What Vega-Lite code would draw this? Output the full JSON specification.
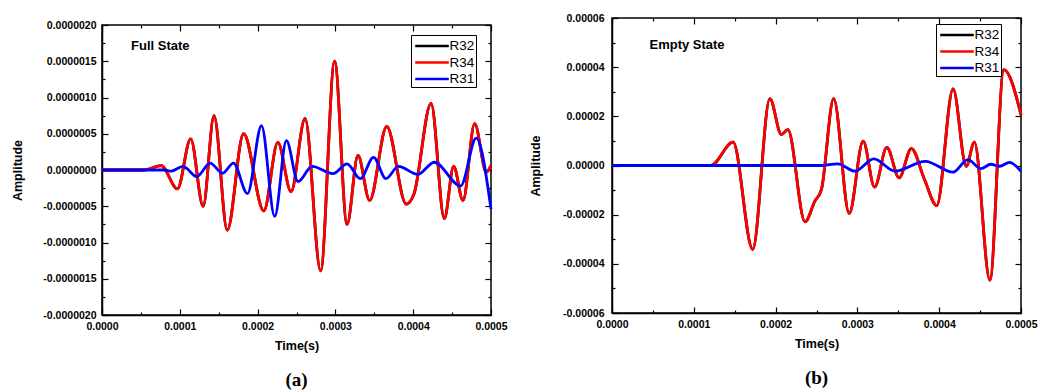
{
  "$schema": "https://vega.github.io/schema/vega-lite/v6.json",
  "background": "white",
  "padding": {"left": 11, "top": 12, "right": 2, "bottom": 0},
  "spacing": 20,
  "config": {
    "view": {"stroke": "black", "strokeWidth": 1.5},
    "axis": {
      "grid": false,
      "labelFont": "Liberation Sans", "labelFontWeight": "bold", "labelFontSize": 10.5, "labelColor": "black",
      "titleFont": "Liberation Sans", "titleFontWeight": "bold", "titleFontSize": 12.5, "titleColor": "black",
      "domainColor": "black", "domainWidth": 1.5, "tickColor": "black", "tickWidth": 1.2,
      "labelFlush": false, "labelOverlap": false
    },
    "legend": {
      "orient": "none", "title": null, "strokeColor": "black", "fillColor": "white", "padding": 1.5,
      "symbolType": "M-2.1,0H2.1", "symbolSize": 256, "symbolStrokeWidth": 2.5, "symbolOffset": 10,
      "labelFont": "Liberation Sans", "labelFontSize": 13.5, "labelColor": "black", "rowPadding": 0.5, "labelOffset": 8
    }
  },
  "resolve": {"scale": {"color": "independent"}, "legend": {"color": "independent"}},
  "datasets": {
    "a": [
      {"s":"R32","t":0,"v":0},{"s":"R32","t":5.4e-5,"v":0},{"s":"R32","t":7.6e-5,"v":6e-8},{"s":"R32","t":9.7e-5,"v":-2.6e-7},{"s":"R32","t":1.14e-4,"v":4.3e-7},{"s":"R32","t":1.30e-4,"v":-5.0e-7},{"s":"R32","t":1.44e-4,"v":7.5e-7},{"s":"R32","t":1.61e-4,"v":-8.3e-7},{"s":"R32","t":1.82e-4,"v":5.0e-7},{"s":"R32","t":2.08e-4,"v":-5.65e-7},{"s":"R32","t":2.26e-4,"v":3.8e-7},{"s":"R32","t":2.43e-4,"v":-3.0e-7},{"s":"R32","t":2.61e-4,"v":7.1e-7},{"s":"R32","t":2.81e-4,"v":-1.39e-6},{"s":"R32","t":2.99e-4,"v":1.5e-6},{"s":"R32","t":3.15e-4,"v":-7.5e-7},{"s":"R32","t":3.29e-4,"v":2.0e-7},{"s":"R32","t":3.44e-4,"v":-4.2e-7},{"s":"R32","t":3.66e-4,"v":6.0e-7},{"s":"R32","t":3.91e-4,"v":-4.7e-7},{"s":"R32","t":4.01e-4,"v":-3.3e-7},{"s":"R32","t":4.23e-4,"v":9.2e-7},{"s":"R32","t":4.40e-4,"v":-6.7e-7},{"s":"R32","t":4.52e-4,"v":5e-8},{"s":"R32","t":4.64e-4,"v":-4.2e-7},{"s":"R32","t":4.79e-4,"v":6.4e-7},{"s":"R32","t":4.94e-4,"v":-3e-8},{"s":"R32","t":5.0e-4,"v":6e-8},
      {"s":"R34","t":0,"v":0},{"s":"R34","t":5.4e-5,"v":0},{"s":"R34","t":7.6e-5,"v":6e-8},{"s":"R34","t":9.7e-5,"v":-2.6e-7},{"s":"R34","t":1.14e-4,"v":4.3e-7},{"s":"R34","t":1.30e-4,"v":-5.0e-7},{"s":"R34","t":1.44e-4,"v":7.5e-7},{"s":"R34","t":1.61e-4,"v":-8.3e-7},{"s":"R34","t":1.82e-4,"v":5.0e-7},{"s":"R34","t":2.08e-4,"v":-5.65e-7},{"s":"R34","t":2.26e-4,"v":3.8e-7},{"s":"R34","t":2.43e-4,"v":-3.0e-7},{"s":"R34","t":2.61e-4,"v":7.1e-7},{"s":"R34","t":2.81e-4,"v":-1.39e-6},{"s":"R34","t":2.99e-4,"v":1.5e-6},{"s":"R34","t":3.15e-4,"v":-7.5e-7},{"s":"R34","t":3.29e-4,"v":2.0e-7},{"s":"R34","t":3.44e-4,"v":-4.2e-7},{"s":"R34","t":3.66e-4,"v":6.0e-7},{"s":"R34","t":3.91e-4,"v":-4.7e-7},{"s":"R34","t":4.01e-4,"v":-3.3e-7},{"s":"R34","t":4.23e-4,"v":9.2e-7},{"s":"R34","t":4.40e-4,"v":-6.7e-7},{"s":"R34","t":4.52e-4,"v":5e-8},{"s":"R34","t":4.64e-4,"v":-4.2e-7},{"s":"R34","t":4.79e-4,"v":6.4e-7},{"s":"R34","t":4.94e-4,"v":-3e-8},{"s":"R34","t":5.0e-4,"v":6e-8},
      {"s":"R31","t":0,"v":0},{"s":"R31","t":8.0e-5,"v":0},{"s":"R31","t":8.9e-5,"v":-1.5e-8},{"s":"R31","t":1.04e-4,"v":5e-8},{"s":"R31","t":1.22e-4,"v":-9e-8},{"s":"R31","t":1.39e-4,"v":9.5e-8},{"s":"R31","t":1.55e-4,"v":-4.5e-8},{"s":"R31","t":1.69e-4,"v":9.5e-8},{"s":"R31","t":1.87e-4,"v":-3.25e-7},{"s":"R31","t":2.05e-4,"v":6.1e-7},{"s":"R31","t":2.22e-4,"v":-6.4e-7},{"s":"R31","t":2.37e-4,"v":4.05e-7},{"s":"R31","t":2.52e-4,"v":-1.6e-7},{"s":"R31","t":2.70e-4,"v":5e-8},{"s":"R31","t":2.97e-4,"v":-5e-8},{"s":"R31","t":3.15e-4,"v":8.5e-8},{"s":"R31","t":3.32e-4,"v":-1.2e-7},{"s":"R31","t":3.49e-4,"v":1.75e-7},{"s":"R31","t":3.65e-4,"v":-1.2e-7},{"s":"R31","t":3.81e-4,"v":5e-8},{"s":"R31","t":4.06e-4,"v":-6e-8},{"s":"R31","t":4.27e-4,"v":1.07e-7},{"s":"R31","t":4.61e-4,"v":-2.2e-7},{"s":"R31","t":4.81e-4,"v":4.4e-7},{"s":"R31","t":5.0e-4,"v":-5.4e-7}
    ],
    "b": [
      {"s":"R32","t":0,"v":0},{"s":"R32","t":1.21e-4,"v":0},{"s":"R32","t":1.48e-4,"v":9.5e-6},{"s":"R32","t":1.72e-4,"v":-3.41e-5},{"s":"R32","t":1.93e-4,"v":2.72e-5},{"s":"R32","t":2.07e-4,"v":1.26e-5},{"s":"R32","t":2.15e-4,"v":1.46e-5},{"s":"R32","t":2.36e-4,"v":-2.29e-5},{"s":"R32","t":2.48e-4,"v":-1.45e-5},{"s":"R32","t":2.56e-4,"v":-9.8e-6},{"s":"R32","t":2.71e-4,"v":2.72e-5},{"s":"R32","t":2.90e-4,"v":-1.95e-5},{"s":"R32","t":3.07e-4,"v":9.9e-6},{"s":"R32","t":3.21e-4,"v":-8.8e-6},{"s":"R32","t":3.36e-4,"v":7.4e-6},{"s":"R32","t":3.51e-4,"v":-5e-6},{"s":"R32","t":3.66e-4,"v":6.9e-6},{"s":"R32","t":3.82e-4,"v":-5.7e-6},{"s":"R32","t":3.97e-4,"v":-1.63e-5},{"s":"R32","t":4.17e-4,"v":3.12e-5},{"s":"R32","t":4.33e-4,"v":-3e-7},{"s":"R32","t":4.43e-4,"v":9.5e-6},{"s":"R32","t":4.62e-4,"v":-4.66e-5},{"s":"R32","t":4.79e-4,"v":3.9e-5},{"s":"R32","t":5.0e-4,"v":2.07e-5},
      {"s":"R34","t":0,"v":0},{"s":"R34","t":1.21e-4,"v":0},{"s":"R34","t":1.48e-4,"v":9.5e-6},{"s":"R34","t":1.72e-4,"v":-3.41e-5},{"s":"R34","t":1.93e-4,"v":2.72e-5},{"s":"R34","t":2.07e-4,"v":1.26e-5},{"s":"R34","t":2.15e-4,"v":1.46e-5},{"s":"R34","t":2.36e-4,"v":-2.29e-5},{"s":"R34","t":2.48e-4,"v":-1.45e-5},{"s":"R34","t":2.56e-4,"v":-9.8e-6},{"s":"R34","t":2.71e-4,"v":2.72e-5},{"s":"R34","t":2.90e-4,"v":-1.95e-5},{"s":"R34","t":3.07e-4,"v":9.9e-6},{"s":"R34","t":3.21e-4,"v":-8.8e-6},{"s":"R34","t":3.36e-4,"v":7.4e-6},{"s":"R34","t":3.51e-4,"v":-5e-6},{"s":"R34","t":3.66e-4,"v":6.9e-6},{"s":"R34","t":3.82e-4,"v":-5.7e-6},{"s":"R34","t":3.97e-4,"v":-1.63e-5},{"s":"R34","t":4.17e-4,"v":3.12e-5},{"s":"R34","t":4.33e-4,"v":-3e-7},{"s":"R34","t":4.43e-4,"v":9.5e-6},{"s":"R34","t":4.62e-4,"v":-4.66e-5},{"s":"R34","t":4.79e-4,"v":3.9e-5},{"s":"R34","t":5.0e-4,"v":2.07e-5},
      {"s":"R31","t":0,"v":0},{"s":"R31","t":2.55e-4,"v":0},{"s":"R31","t":2.76e-4,"v":7e-7},{"s":"R31","t":2.97e-4,"v":-2.3e-6},{"s":"R31","t":3.20e-4,"v":2.7e-6},{"s":"R31","t":3.46e-4,"v":-2.3e-6},{"s":"R31","t":3.83e-4,"v":1.7e-6},{"s":"R31","t":4.17e-4,"v":-2.7e-6},{"s":"R31","t":4.35e-4,"v":2.4e-6},{"s":"R31","t":4.51e-4,"v":-1.3e-6},{"s":"R31","t":4.63e-4,"v":5e-7},{"s":"R31","t":4.74e-4,"v":-3e-7},{"s":"R31","t":4.86e-4,"v":1.3e-6},{"s":"R31","t":5.0e-4,"v":-2.4e-6}
    ],
    "la": [{"t": 3.73e-5, "v": 1.71e-6, "label": "Full State"}],
    "lb": [{"t": 4.58e-5, "v": 4.92e-5, "label": "Empty State"}]
  },
  "hconcat": [
    {
      "spacing": 0,
      "resolve": {"scale": {"color": "independent"}, "legend": {"color": "independent"}},
      "vconcat": [
        {
          "width": 389, "height": 1,
          "data": {"values": [{"k": 1}]},
          "mark": {"type": "point", "opacity": 0, "size": 0},
          "view": {"stroke": null}
        },
        {
          "width": 389, "height": 290,
          "title": {"text": "(a)", "orient": "bottom", "anchor": "middle", "frame": "group", "font": "Liberation Serif", "fontSize": 19, "fontWeight": "bold", "color": "black", "offset": 19},
          "resolve": {"axis": {"x": "independent", "y": "independent"}},
          "layer": [
            {
              "data": {"name": "a"},
              "mark": {"type": "line", "strokeWidth": 2.8, "interpolate": "monotone"},
              "encoding": {
                "x": {"field": "t", "type": "quantitative", "scale": {"domain": [0, 0.0005], "nice": false, "zero": false},
                  "axis": {"orient": "bottom", "title": "Time(s)", "titlePadding": 8,
                    "values": [0,0.0001,0.0002,0.0003,0.0004,0.0005], "format": ".4f",
                    "tickSize": -6, "labelPadding": 12}},
                "y": {"field": "v", "type": "quantitative", "scale": {"domain": [-0.000002, 0.000002], "nice": false},
                  "axis": {"orient": "left", "title": "Amplitude", "titlePadding": 18,
                    "values": [-0.000002,-0.0000015,-0.000001,-0.0000005,0,0.0000005,0.000001,0.0000015,0.000002],
                    "labelExpr": "replace(format(datum.value, '.7f'), '\u2212', '-')",
                    "tickSize": -6, "labelPadding": 12}},
                "color": {"field": "s", "type": "nominal", "sort": null,
                  "scale": {"domain": ["R32", "R34", "R31"], "range": ["#000000", "#ff0000", "#0000ff"]},
                  "legend": {"legendX": 309, "legendY": 10}}
              }
            },
            {
              "data": {"name": "la"},
              "mark": {"type": "text", "align": "left", "baseline": "middle", "font": "Liberation Sans", "fontWeight": "bold", "fontSize": 13, "color": "black"},
              "encoding": {
                "x": {"field": "t", "type": "quantitative",
                  "axis": {"orient": "top", "title": null, "labels": false, "domain": false,
                    "values": [0,0.0001,0.0002,0.0003,0.0004,0.0005], "tickSize": -6}},
                "y": {"field": "v", "type": "quantitative",
                  "axis": {"orient": "right", "title": null, "labels": false, "domain": false,
                    "values": [-0.000002,-0.0000015,-0.000001,-0.0000005,0,0.0000005,0.000001,0.0000015,0.000002], "tickSize": -6}},
                "text": {"field": "label"}
              }
            },
            {
              "data": {"name": "la"},
              "mark": {"type": "point", "opacity": 0},
              "encoding": {
                "x": {"field": "t", "type": "quantitative",
                  "axis": {"orient": "bottom", "title": null, "labels": false, "domain": false,
                    "values": [0.00005,0.00015,0.00025,0.00035,0.00045], "tickSize": -3}},
                "y": {"field": "v", "type": "quantitative",
                  "axis": {"orient": "left", "title": null, "labels": false, "domain": false,
                    "values": [-0.00000175,-0.00000125,-0.00000075,-0.00000025,0.00000025,0.00000075,0.00000125,0.00000175], "tickSize": -3}}
              }
            },
            {
              "data": {"name": "la"},
              "mark": {"type": "point", "opacity": 0},
              "encoding": {
                "x": {"field": "t", "type": "quantitative",
                  "axis": {"orient": "top", "title": null, "labels": false, "domain": false,
                    "values": [0.00005,0.00015,0.00025,0.00035,0.00045], "tickSize": -3}},
                "y": {"field": "v", "type": "quantitative",
                  "axis": {"orient": "right", "title": null, "labels": false, "domain": false,
                    "values": [-0.00000175,-0.00000125,-0.00000075,-0.00000025,0.00000025,0.00000075,0.00000125,0.00000175], "tickSize": -3}}
              }
            }
          ]
        }
      ]
    },
    {
      "width": 409, "height": 295,
      "title": {"text": "(b)", "orient": "bottom", "anchor": "middle", "frame": "group", "font": "Liberation Serif", "fontSize": 19, "fontWeight": "bold", "color": "black", "offset": 19},
      "resolve": {"axis": {"x": "independent", "y": "independent"}},
      "layer": [
        {
          "data": {"name": "b"},
          "mark": {"type": "line", "strokeWidth": 2.8, "interpolate": "monotone"},
          "encoding": {
            "x": {"field": "t", "type": "quantitative", "scale": {"domain": [0, 0.0005], "nice": false, "zero": false},
              "axis": {"orient": "bottom", "title": "Time(s)", "titlePadding": 8,
                "values": [0,0.0001,0.0002,0.0003,0.0004,0.0005], "format": ".4f",
                "tickSize": -6, "labelPadding": 12}},
            "y": {"field": "v", "type": "quantitative", "scale": {"domain": [-0.00006, 0.00006], "nice": false},
              "axis": {"orient": "left", "title": "Amplitude", "titlePadding": 20,
                "values": [-0.00006,-0.00004,-0.00002,0,0.00002,0.00004,0.00006],
                "labelExpr": "replace(format(datum.value, '.5f'), '\u2212', '-')",
                "tickSize": -6, "labelPadding": 14}},
            "color": {"field": "s", "type": "nominal", "sort": null,
              "scale": {"domain": ["R32", "R34", "R31"], "range": ["#000000", "#ff0000", "#0000ff"]},
              "legend": {"legendX": 324, "legendY": 6}}
          }
        },
        {
          "data": {"name": "lb"},
          "mark": {"type": "text", "align": "left", "baseline": "middle", "font": "Liberation Sans", "fontWeight": "bold", "fontSize": 13, "color": "black"},
          "encoding": {
            "x": {"field": "t", "type": "quantitative",
              "axis": {"orient": "top", "title": null, "labels": false, "domain": false,
                "values": [0,0.0001,0.0002,0.0003,0.0004,0.0005], "tickSize": -6}},
            "y": {"field": "v", "type": "quantitative",
              "axis": {"orient": "right", "title": null, "labels": false, "domain": false,
                "values": [-0.00006,-0.00004,-0.00002,0,0.00002,0.00004,0.00006], "tickSize": -6}},
            "text": {"field": "label"}
          }
        },
        {
          "data": {"name": "lb"},
          "mark": {"type": "point", "opacity": 0},
          "encoding": {
            "x": {"field": "t", "type": "quantitative",
              "axis": {"orient": "bottom", "title": null, "labels": false, "domain": false,
                "values": [0.00005,0.00015,0.00025,0.00035,0.00045], "tickSize": -3}},
            "y": {"field": "v", "type": "quantitative",
              "axis": {"orient": "left", "title": null, "labels": false, "domain": false,
                "values": [-0.00005,-0.00003,-0.00001,0.00001,0.00003,0.00005], "tickSize": -3}}
          }
        },
        {
          "data": {"name": "lb"},
          "mark": {"type": "point", "opacity": 0},
          "encoding": {
            "x": {"field": "t", "type": "quantitative",
              "axis": {"orient": "top", "title": null, "labels": false, "domain": false,
                "values": [0.00005,0.00015,0.00025,0.00035,0.00045], "tickSize": -3}},
            "y": {"field": "v", "type": "quantitative",
              "axis": {"orient": "right", "title": null, "labels": false, "domain": false,
                "values": [-0.00005,-0.00003,-0.00001,0.00001,0.00003,0.00005], "tickSize": -3}}
          }
        }
      ]
    }
  ]
}
